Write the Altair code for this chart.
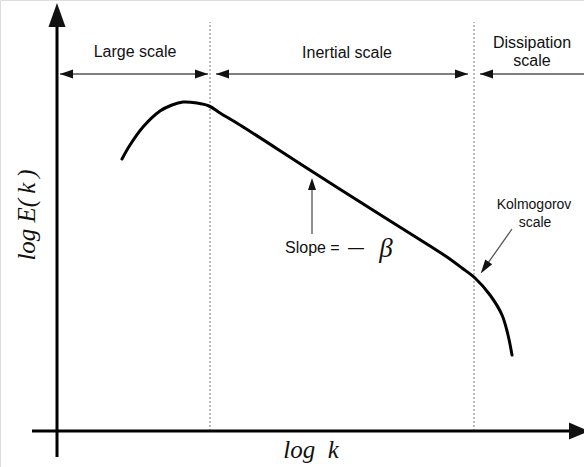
import altair as alt
import pandas as pd

# Energy spectrum sketch: coordinates are (log k, log E) with the origin at the axes' crossing
curve_logk = [65, 73, 86, 103, 115, 126, 140, 152, 163, 183, 256, 330, 373, 390, 405, 418, 433, 445, 451, 455]
curve_logE = [272, 286, 304, 320, 326, 329, 328, 325, 318, 306, 259, 212, 185, 174, 163, 153, 136, 116, 96, 76]

# Dotted boundaries between the ranges
boundary_logk = [153, 417]
boundary_top = 409

# Range arrows along the top
range_start = [3, 159, 423]
range_end = [151, 411, 540]
range_level = 357

# Range labels
label_text = ["Large scale", "Inertial scale", "Dissipation", "scale"]
label_logk = [78, 290, 475, 475]
label_logE = [379, 378, 388, 370]

# Slope annotation
slope_logk = 255
slope_tail, slope_tip = 197, 253
slope_text_logk, slope_text_logE = 228, 183
dash_logk = 299
beta_logk, beta_logE = 329, 182

# Kolmogorov annotation
kolmo_text = ["Kolmogorov", "scale"]
kolmo_text_logk = [477, 478]
kolmo_text_logE = [226, 208]
kolmo_tail = (455, 202)
kolmo_tip = (424, 158)

# Axis extents
x_axis_from, x_axis_to = -25, 512
y_axis_from, y_axis_to = -26, 404

X_DOMAIN = [-57, 527]
Y_DOMAIN = [-36, 431]

xs = alt.Scale(domain=X_DOMAIN, nice=False, zero=False)
ys = alt.Scale(domain=Y_DOMAIN, nice=False, zero=False)


def X(field):
    return alt.X(field, type="quantitative", scale=xs, axis=None)


def Y(field):
    return alt.Y(field, type="quantitative", scale=ys, axis=None)


def segments(rows, color, width, dash=None):
    df = pd.DataFrame(rows, columns=["x", "y", "x2", "y2"])
    kw = dict(color=color, strokeWidth=width)
    if dash:
        kw["strokeDash"] = dash
    return alt.Chart(df).mark_rule(**kw).encode(
        x=X("x"), y=Y("y"), x2="x2", y2="y2"
    )


def heads(rows, shape, size, color="#111111", angle=0):
    df = pd.DataFrame(rows, columns=["x", "y"])
    return alt.Chart(df).mark_point(
        shape=shape, size=size, filled=True, opacity=1, color=color,
        strokeWidth=0, angle=angle
    ).encode(x=X("x"), y=Y("y"))


def texts(rows, size, font="Liberation Sans", style="normal", angle=0, align="center"):
    df = pd.DataFrame(rows, columns=["x", "y", "t"])
    return alt.Chart(df).mark_text(
        font=font, fontSize=size, fontStyle=style, color="#111111",
        angle=angle, align=align, baseline="middle"
    ).encode(x=X("x"), y=Y("y"), text="t:N")


UP = "M0,-1L0.67,1L-0.67,1Z"
RIGHT = "M1,0L-1,0.69L-1,-0.69Z"
LEFT = "M-1,0L1,0.69L1,-0.69Z"

# spectrum curve
curve = alt.Chart(pd.DataFrame({"k": curve_logk, "E": curve_logE})).mark_line(
    color="black", strokeWidth=3, interpolate="catmull-rom", strokeCap="round"
).encode(x=X("k"), y=Y("E"), order="k:Q")

# axes
axes = segments(
    [[x_axis_from, 0, x_axis_to, 0], [0, y_axis_from, 0, y_axis_to]], "black", 3
)
axis_heads = (
    heads([[0, 416]], "M0,-1L0.71,1L-0.71,1Z", 576)
    + heads([[522, 0]], "M1,0L-1,0.85L-1,-0.85Z", 400)
)

# dotted range boundaries
bounds = segments(
    [[b, 0, b, boundary_top] for b in boundary_logk], "#777777", 1, dash=[2, 2]
)

# range arrows
range_lines = segments(
    [[s, range_level, e, range_level] for s, e in zip(range_start, range_end)],
    "#555555", 1.3,
)
range_heads = (
    heads([[s + 6.5, range_level] for s in range_start], LEFT, 169)
    + heads([[e - 6.5, range_level] for e in range_end], RIGHT, 169)
)
range_labels = texts(
    [[x, y, t] for x, y, t in zip(label_logk, label_logE, label_text)], 16
)

# slope annotation
slope_line = segments([[slope_logk, slope_tail, slope_logk, slope_tip - 6]], "#555555", 1.3)
slope_head = heads([[slope_logk, slope_tip - 6]], UP, 144)
slope_label = texts([[slope_text_logk, slope_text_logE, "Slope ="]], 16, align="left")
slope_dash = texts([[dash_logk, slope_text_logE, "\u2014"]], 16)
slope_beta = texts([[beta_logk, beta_logE, "\u03b2"]], 27, font="Liberation Serif", style="italic")

# Kolmogorov annotation
kx, ky = kolmo_tip
kolmo_line = segments([[kolmo_tail[0], kolmo_tail[1], kx + 3.7, ky + 5.3]], "#555555", 1.3)
kolmo_head = heads([[kx + 3.7, ky + 5.3]], "M0,-1L0.6,1L-0.6,1Z", 196, angle=215)
kolmo_labels = texts(
    [[x, y, t] for x, y, t in zip(kolmo_text_logk, kolmo_text_logE, kolmo_text)], 14
)

# axis titles
x_title = texts([[254, -19, "log\u2002k"]], 25, font="Liberation Serif", style="italic")
y_title = texts([[-30, 216, "log E(\u2009k\u2009)"]], 25, font="Liberation Serif", style="italic", angle=270)

chart = alt.layer(
    bounds, range_lines, range_heads, range_labels,
    curve, axes, axis_heads,
    slope_line, slope_head, slope_label, slope_dash, slope_beta,
    kolmo_line, kolmo_head, kolmo_labels,
    x_title, y_title,
).properties(
    width=584, height=467, padding=0, autosize=alt.AutoSizeParams(type="none")
).configure_view(stroke=None).configure(background="white")

chart.save("out.html", embed_options={"renderer": "svg", "actions": False})
